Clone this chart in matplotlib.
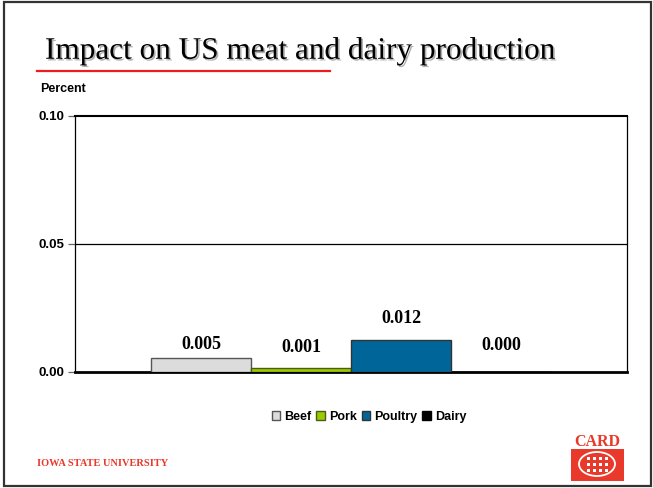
import matplotlib
matplotlib.use("Agg")
import matplotlib.pyplot as plt
import matplotlib.patheffects as pe
from matplotlib.patches import Rectangle, Ellipse

# data
categories = ["Beef", "Pork", "Poultry", "Dairy"]
values = [0.0054, 0.0014, 0.0124, 0.0]
labels = ["0.005", "0.001", "0.012", "0.000"]
colors = ["#dcdcdc", "#99cc00", "#006699", "#000000"]
edges = ["#555555", "#4d5a1a", "#333333", "#000000"]
yticks = [0.0, 0.05, 0.10]
ytick_labels = ["0.00", "0.05", "0.10"]

RED = "#e8392a"
W, H = 653, 488

fig = plt.figure(figsize=(W / 100, H / 100), dpi=100)
fig.patch.set_facecolor("white")

# slide border
fig.add_artist(Rectangle((4 / W, 2 / H), 647 / W, 484 / H, transform=fig.transFigure,
                         fill=False, edgecolor="#333333", lw=1.6))

# title with light shadow + red rule
fig.text(45 / W, 1 - 51 / H, "Impact on US meat and dairy production",
         fontsize=22.5, family="Liberation Serif", color="black", va="center", ha="left",
         path_effects=[pe.SimplePatchShadow(offset=(1.2, -1.2), shadow_rgbFace="#b0b0b0",
                                            alpha=1.0), pe.Normal()])
fig.add_artist(plt.Line2D([37 / W, 330 / W], [1 - 71 / H, 1 - 71 / H],
                          transform=fig.transFigure, color="#ee1c1c", lw=1.6))

# chart
ax = fig.add_axes([75 / W, (H - 372) / H, 552 / W, 256 / H])
x = list(range(len(categories)))
bars = ax.bar(x, values, width=1.0, color=colors, edgecolor=edges, lw=1.0,
              label=categories, zorder=3)
offsets = [10, 15, 16, 19]  # label lift above bar top, points
for b, lab, off in zip(bars, labels, offsets):
    ax.annotate(lab, (b.get_x() + b.get_width() / 2, b.get_height()),
                xytext=(0, off), textcoords="offset points", ha="center", va="center",
                fontsize=13, fontweight="bold", family="Liberation Serif")

ax.set_xlim(-1.26, 4.26)
ax.set_ylim(0, 0.10)
ax.axhline(0.05, color="black", lw=0.9, zorder=1)
ax.set_yticks(yticks)
ax.set_yticklabels(ytick_labels, fontsize=9.5, fontweight="bold", family="Liberation Sans")
ax.tick_params(axis="y", length=5, width=0.9, color="#666666", pad=3)
ax.set_xticks([])
ax.spines["bottom"].set_linewidth(2.0)
ax.spines["top"].set_linewidth(1.5)
ax.spines["left"].set_linewidth(0.9)
ax.spines["right"].set_linewidth(0.9)

fig.text(40 / W, 1 - 89 / H, "Percent", fontsize=9, fontweight="bold",
         family="Liberation Sans", va="center", ha="left")

leg = fig.legend(handles=bars, labels=categories, loc="center",
                 bbox_to_anchor=(369 / W, 1 - 417 / H), ncol=4, frameon=False,
                 prop=dict(family="Liberation Sans", weight="bold", size=9),
                 handlelength=0.7, handleheight=0.7, handletextpad=0.3,
                 columnspacing=0.4)

# footer: university wordmark
fig.text(37 / W, 1 - 463 / H, "IOWA STATE UNIVERSITY", fontsize=7.5, fontweight="bold",
         family="Liberation Serif", color=RED, va="center", ha="left")

# CARD logo
fig.text(597 / W, 1 - 442 / H, "CARD", fontsize=11.5, fontweight="bold",
         family="Liberation Serif", color=RED, va="center", ha="center")
fig.add_artist(Rectangle((571 / W, 1 - 481 / H), 53 / W, 32 / H,
                         transform=fig.transFigure, facecolor=RED, edgecolor="none"))
fig.add_artist(Ellipse((597 / W, 1 - 464 / H), 36 / W, 24 / H, transform=fig.transFigure,
                       fill=False, edgecolor="white", lw=1.3))
for dy in (-6, 0, 6):
    for dx in (-9, -3, 3, 9):
        fig.add_artist(Rectangle(((597 + dx - 1.5) / W, 1 - (464 + dy + 1.5) / H), 3 / W, 3 / H,
                                 transform=fig.transFigure, facecolor="white",
                                 edgecolor="none"))

fig.savefig("out.png", dpi=100)
